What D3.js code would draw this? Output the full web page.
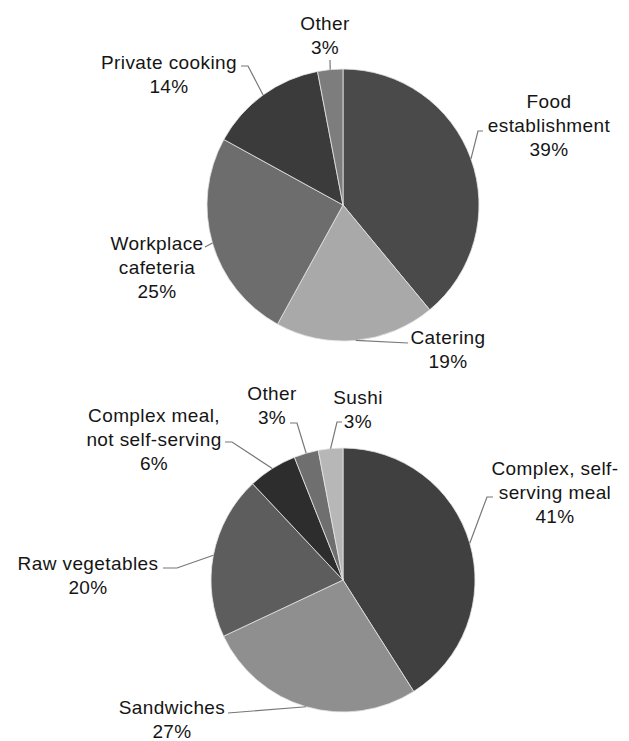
<!DOCTYPE html>
<html>
<head>
<meta charset="utf-8">
<script src="https://cdn.jsdelivr.net/npm/d3@7"></script>
<style>
  body { margin: 0; background: #fff; }
  .lbl { font-family: "Liberation Sans", Arial, sans-serif; font-size: 19px; letter-spacing: 0.4px; fill: #151515; }
</style>
</head>
<body>
<script>
// top pie: where the meal was eaten
var placeNames = [["Food", "establishment"], ["Catering"], ["Workplace", "cafeteria"], ["Private cooking"], ["Other"]];
var placeValues = [39, 19, 25, 14, 3];
var placeColors = ["#4a4a4a", "#a9a9a9", "#6d6d6d", "#3b3b3b", "#7d7d7d"];

// bottom pie: type of meal
var mealNames = [["Complex, self-", "serving meal"], ["Sandwiches"], ["Raw vegetables"], ["Complex meal,", "not self-serving"], ["Other"], ["Sushi"]];
var mealValues = [41, 27, 20, 6, 3, 3];
var mealColors = ["#404040", "#8f8f8f", "#5d5d5d", "#2d2d2d", "#6f6f6f", "#b7b7b7"];

// label layout relative to pie centre: text centre of first line, leader end, stub end
var placeLayout = [
  {tx: 206, ty: -104, ex: 135, ey: -74, sx: 140},
  {tx: 105, ty: 132, ex: 65, ey: 138, sx: 65},
  {tx: -186, ty: 38, ex: -138, ey: 42, sx: -138},
  {tx: -174, ty: -143, ex: -95, ey: -139, sx: -102},
  {tx: -18, ty: -182, ex: -13, ey: -145, sx: -13}
];
var mealLayout = [
  {tx: 212, ty: -112, ex: 144, ey: -83, sx: 150},
  {tx: -171, ty: 127, ex: -115, ey: 133, sx: -115},
  {tx: -255, ty: -17, ex: -166, ey: -12, sx: -180},
  {tx: -189, ty: -165, ex: -111, ey: -138, sx: -118},
  {tx: -71, ty: -187, ex: -46, ey: -157, sx: -53},
  {tx: 15, ty: -183, ex: -6, ey: -158, sx: -1}
];

var svg = d3.select("body").append("svg")
  .attr("width", 629)
  .attr("height", 741);

function drawPie(cx, cy, r, names, values, colors, layout){
  var g = svg.append("g").attr("transform", "translate(" + cx + "," + cy + ")");
  var pie = d3.pie().sort(null).value(function(d){ return d; });
  var arcs = pie(values);
  var arc = d3.arc().innerRadius(0).outerRadius(r);
  var edge = d3.arc().innerRadius(r).outerRadius(r);

  g.selectAll(".slice")
    .data(arcs)
    .enter()
    .append("path")
    .attr("class", "slice")
    .attr("d", arc)
    .style("fill", function(d, i){ return colors[i]; })
    .style("stroke", "#e6e6e6")
    .style("stroke-width", 0.8);

  //leader lines from the middle of each slice edge
  g.selectAll(".leader")
    .data(arcs)
    .enter()
    .append("path")
    .attr("class", "leader")
    .attr("d", function(d, i){
      var p = edge.centroid(d);
      var l = layout[i];
      return "M" + p[0] + "," + p[1] + "L" + l.ex + "," + l.ey + "L" + l.sx + "," + l.ey;
    })
    .style("fill", "none")
    .style("stroke", "#777")
    .style("stroke-width", 1.2);

  var labels = g.selectAll(".lbl")
    .data(arcs)
    .enter()
    .append("text")
    .attr("class", "lbl")
    .attr("text-anchor", "middle")
    .attr("y", function(d, i){ return layout[i].ty + 6.5; });

  labels.each(function(d, i){
    var t = d3.select(this);
    var lines = names[i].concat([d.value + "%"]);
    lines.forEach(function(s, k){
      t.append("tspan")
        .attr("x", layout[i].tx)
        .attr("dy", k === 0 ? 0 : 24)
        .text(s);
    });
  });
}

drawPie(343, 205, 136, placeNames, placeValues, placeColors, placeLayout);
drawPie(343, 580, 132, mealNames, mealValues, mealColors, mealLayout);
</script>
</body>
</html>
